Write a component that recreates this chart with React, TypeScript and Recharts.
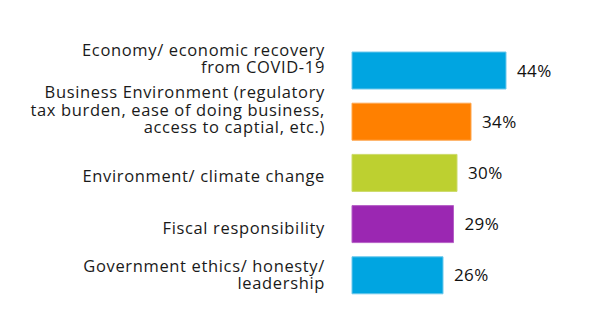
import React from "react";
import { BarChart, Bar, XAxis, YAxis, Cell, LabelList } from "recharts";

const categories: string[] = [
  "Economy/ economic recovery\nfrom COVID-19",
  "Business Environment (regulatory\ntax burden, ease of doing business,\naccess to captial, etc.)",
  "Environment/ climate change",
  "Fiscal responsibility",
  "Government ethics/ honesty/\nleadership",
];
const values: number[] = [44, 34, 30, 29, 26];
const fills: string[] = ["#00A5E1", "#FF8000", "#BDD030", "#9B27B2", "#00A5E1"];
const strokes: string[] = ["#6CC8EC", "#FFA64D", "#CCDB6A", "#B55FC6", "#6CC8EC"];
const labelNudge: number[] = [-12, -12, 3, 4, -1];

const data = categories.map((name, i) => ({ name, value: values[i] }));

const FONT = "'Open Sans', sans-serif";

const CategoryTick = (props: any) => {
  const { x, y, payload, index } = props;
  const lines = String(payload.value).split("\n");
  const lh = 17.3;
  const start = y + (labelNudge[index] || 0) - ((lines.length - 1) * lh) / 2;
  return (
    <text
      x={x}
      y={start}
      textAnchor="end"
      fontSize={16.5}
      letterSpacing={0.65}
      fontFamily={FONT}
      fill="#1a1a1a"
    >
      {lines.map((ln, i) => (
        <tspan key={i} x={x} y={start + i * lh} dy="0.36em">
          {ln}
        </tspan>
      ))}
    </text>
  );
};

export default function App() {
  return (
    <div style={{ width: 600, height: 319, background: "#fff" }}>
      <BarChart
        width={600}
        height={319}
        data={data}
        layout="vertical"
        margin={{ top: 37, right: 81, bottom: 26, left: 0 }}
      >
        <XAxis type="number" domain={[0, 50]} hide />
        <YAxis
          type="category"
          dataKey="name"
          width={344}
          axisLine={false}
          tickLine={false}
          tickSize={0}
          tickMargin={27}
          interval={0}
          tick={<CategoryTick />}
        />
        <Bar dataKey="value" barSize={37} isAnimationActive={false}>
          {data.map((_, i) => (
            <Cell key={i} fill={fills[i]} stroke={strokes[i]} strokeWidth={1} />
          ))}
          <LabelList
            dataKey="value"
            position="right"
            offset={11}
            formatter={(v: any) => `${v}%`}
            style={{ fontSize: 17, fontFamily: FONT, fill: "#111", letterSpacing: 0.4 }}
          />
        </Bar>
      </BarChart>
    </div>
  );
}
